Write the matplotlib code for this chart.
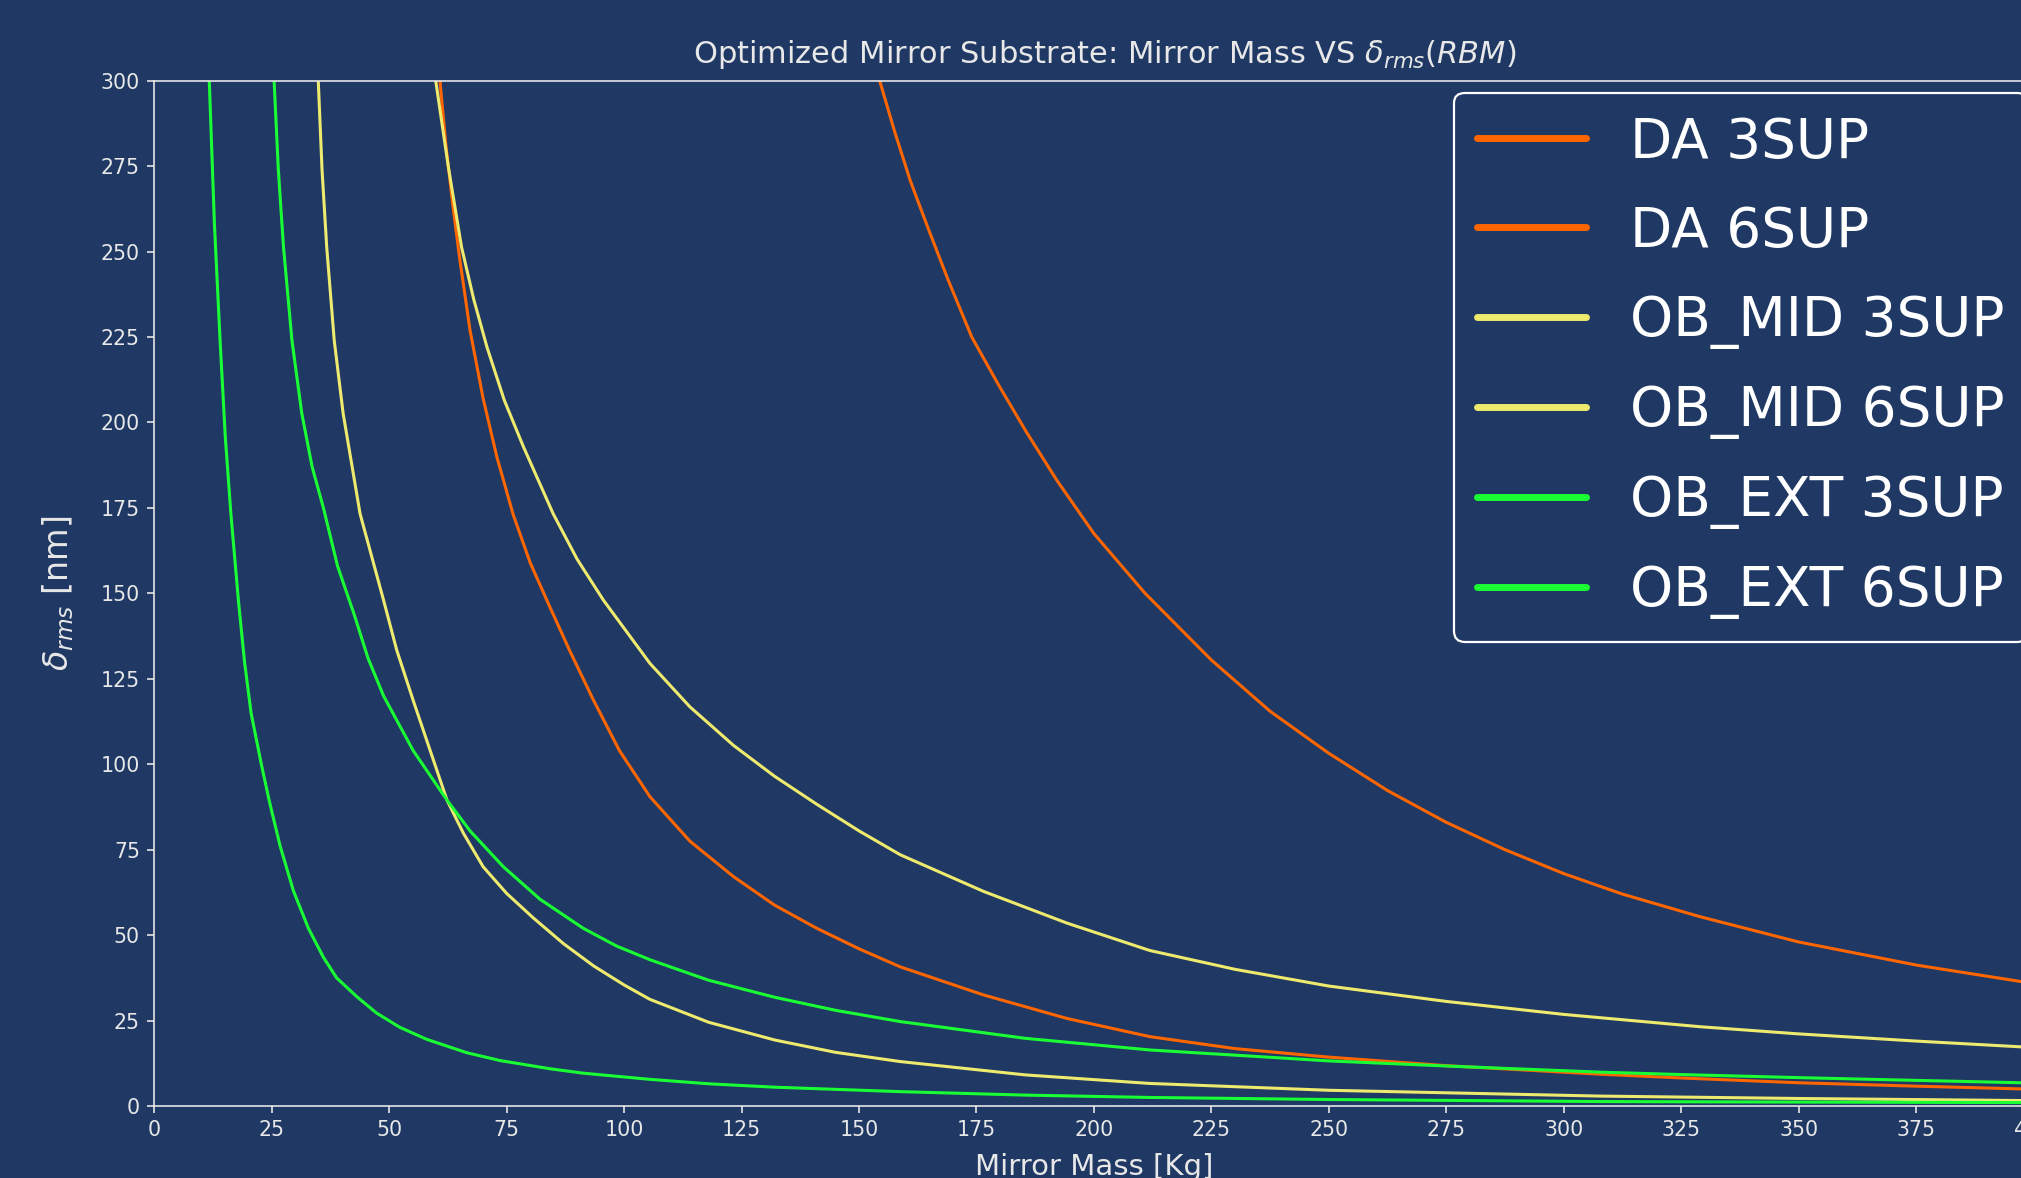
import matplotlib
matplotlib.use("Agg")
import matplotlib.pyplot as plt

# ---- data ----
da_3sup_x = [154.4, 157.5, 160.9, 164.8, 169.0, 174.0, 179.7, 185.5, 192.1, 200.0, 210.9, 225, 237.5, 250, 262.5, 275, 287.5, 300, 312.5, 329, 350, 375.2, 397.4]
da_3sup_y = [300, 285.5, 270.8, 256.5, 241.6, 225.0, 211.0, 197.5, 183.1, 167.5, 150, 130.5, 115.5, 103.2, 92.3, 83.0, 75.0, 68.0, 62.0, 55.4, 48, 41.2, 36.4]

da_6sup_x = [60.8, 62.0, 63.5, 65.0, 67.2, 70.0, 72.9, 76.4, 80.0, 84.2, 88.5, 93.5, 99.0, 105.5, 114.0, 123.3, 132.0, 141.0, 150.0, 158.8, 176.5, 194.3, 211.9, 230, 250, 275, 307.8, 325, 350, 375, 397.4]
da_6sup_y = [300, 282, 264, 248, 227, 207, 190, 173, 159, 146, 133, 118.7, 104.0, 90.5, 77.5, 67.1, 58.8, 52.0, 46.0, 40.7, 32.5, 25.6, 20.3, 16.8, 14.3, 11.8, 9.3, 8.2, 6.8, 5.8, 5.0]

obmid_3sup_x = [59.9, 62.6, 65.4, 68.0, 70.8, 74.5, 78.6, 84.9, 90.0, 95.6, 105.5, 114.0, 123.3, 132.0, 141.0, 150.0, 158.8, 176.5, 194.3, 211.9, 230, 250, 275, 300, 329, 350, 375, 397.4]
obmid_3sup_y = [300, 274.7, 251.3, 236.0, 222.1, 206.5, 192.8, 173.3, 160.0, 148, 129.5, 116.8, 105.5, 96.5, 88.3, 80.5, 73.5, 62.8, 53.5, 45.5, 40.0, 35.1, 30.6, 26.8, 23.2, 21.1, 19.0, 17.3]

obmid_6sup_x = [34.9, 35.7, 36.7, 38.3, 40.2, 43.8, 48.8, 51.6, 55.1, 58.7, 62.3, 65.8, 70.0, 75.0, 80.7, 87.1, 93.5, 99.9, 105.5, 118.0, 132.1, 145.0, 158.8, 185.4, 211.9, 250, 307.8, 350, 397.4]
obmid_6sup_y = [300, 274, 251.3, 224, 202.6, 173.3, 148, 133.4, 118.7, 104.1, 89.5, 79.8, 70.0, 62.2, 55.0, 47.5, 41.0, 35.5, 31.2, 24.5, 19.3, 15.7, 13.0, 9.1, 6.6, 4.6, 2.9, 2.2, 1.6]

obext_3sup_x = [25.5, 26.4, 27.5, 29.3, 31.4, 33.6, 36.0, 39.0, 42.5, 45.5, 48.8, 55.1, 62.3, 67.2, 74.3, 82.1, 91.3, 98.4, 105.5, 118.0, 132.1, 145.0, 158.8, 185.4, 211.9, 250, 275, 307.8, 325, 350, 375, 397.4]
obext_3sup_y = [300, 274, 251.3, 224, 202.6, 187, 175, 158, 144, 131, 120, 104, 89.5, 80.5, 70.0, 60.5, 52.0, 46.8, 42.8, 36.8, 31.8, 28.0, 24.7, 19.8, 16.4, 13.2, 11.7, 9.9, 9.2, 8.3, 7.5, 6.8]

obext_6sup_x = [11.7, 12.8, 14.0, 15.1, 16.3, 17.9, 19.2, 20.6, 22.9, 24.6, 26.8, 29.6, 32.8, 36.0, 38.8, 43.1, 47.3, 52.3, 58.0, 66.5, 73.6, 84.2, 91.3, 105.5, 118.0, 132.1, 158.8, 185.0, 211.9, 250, 307.8, 350, 397.4]
obext_6sup_y = [300, 258, 224, 196, 173.3, 148, 130, 115, 99.2, 88.5, 76, 63, 52, 43.5, 37.5, 32, 27.2, 23.0, 19.5, 15.6, 13.3, 10.9, 9.6, 7.8, 6.5, 5.5, 4.2, 3.2, 2.5, 1.9, 1.3, 1.15, 1.0]

labels = ["DA 3SUP", "DA 6SUP", "OB_MID 3SUP", "OB_MID 6SUP", "OB_EXT 3SUP", "OB_EXT 6SUP"]
series_x = [da_3sup_x, da_6sup_x, obmid_3sup_x, obmid_6sup_x, obext_3sup_x, obext_6sup_x]
series_y = [da_3sup_y, da_6sup_y, obmid_3sup_y, obmid_6sup_y, obext_3sup_y, obext_6sup_y]
colors = ["#ff6600", "#ff6600", "#eeea6e", "#eeea6e", "#1aff33", "#1aff33"]

x_ticks = list(range(0, 401, 25))
y_ticks = list(range(0, 301, 25))

# ---- styling ----
BG = "#1f3864"
FG = "#e8e8e8"
S = 1.48

fig = plt.figure(figsize=(20.21, 11.78), dpi=100, facecolor=BG)
W, H = 2021, 1178
x0, ytop, ybot, x400 = 154.3, 80.7, 1106.0, 2033.5
ax = fig.add_axes([x0 / W, (H - ybot) / H, (x400 - x0) / W, (ybot - ytop) / H])
ax.set_facecolor(BG)

for xs, ys, c, lab in zip(series_x, series_y, colors, labels):
    ax.plot(xs, ys, color=c, lw=2.2, label=lab, solid_joinstyle="round")

ax.set_xlim(0, 400)
ax.set_ylim(0, 300)
ax.set_xticks(x_ticks)
ax.set_yticks(y_ticks)

for side in ["left", "bottom", "top", "right"]:
    ax.spines[side].set_color(FG)
    ax.spines[side].set_linewidth(0.8 * S)
ax.tick_params(colors=FG, labelcolor=FG, labelsize=10 * S, length=3.5 * S,
               width=0.8 * S, pad=3.5 * S)

ax.set_title(r"Optimized Mirror Substrate: Mirror Mass VS $\delta_{rms}(RBM)$",
             color=FG, fontsize=22, pad=13, x=0.506)
ax.set_xlabel("Mirror Mass [Kg]", color=FG, fontsize=21, labelpad=9)
ax.set_ylabel(r"$\delta_{rms}$ [nm]", color=FG, fontsize=24, labelpad=18)

leg = ax.legend(loc="upper left", bbox_to_anchor=(1453.6 / W, 1 - 92.5 / H),
                bbox_transform=fig.transFigure, borderaxespad=0,
                fontsize=39.5, labelspacing=0.64, borderpad=0.42, facecolor=BG,
                edgecolor="white", framealpha=1.0)
leg.get_frame().set_linewidth(1.6)
for t in leg.get_texts():
    t.set_color("white")
for ln in leg.get_lines():
    ln.set_linewidth(5)
    ln.set_solid_capstyle("round")

fig.savefig("out.png", dpi=100, facecolor=BG)
